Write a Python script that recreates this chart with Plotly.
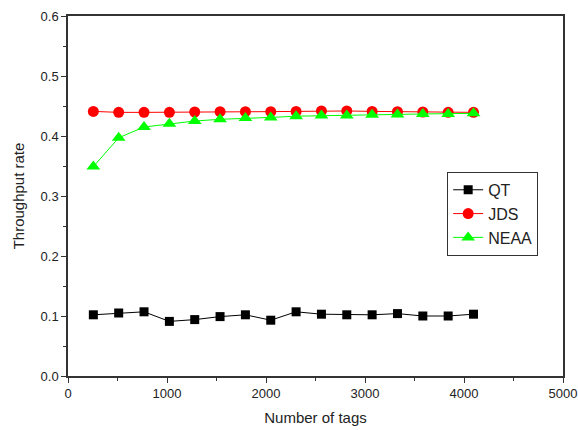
import plotly.graph_objects as go

tags = [256 * k for k in range(1, 17)]
qt = [0.102, 0.105, 0.107, 0.091, 0.094, 0.099, 0.102, 0.093, 0.107, 0.103, 0.102, 0.102, 0.104, 0.100, 0.100, 0.103]
jds = [0.441, 0.4394, 0.4394, 0.4394, 0.440, 0.4406, 0.4406, 0.4406, 0.441, 0.4417, 0.4417, 0.441, 0.4406, 0.440, 0.4394, 0.4394]
neaa = [0.349, 0.397, 0.415, 0.4206, 0.425, 0.4278, 0.430, 0.431, 0.433, 0.434, 0.434, 0.4356, 0.436, 0.4367, 0.4367, 0.4378]

fig = go.Figure()
fig.add_trace(go.Scatter(x=tags, y=qt, name="QT", mode="lines+markers",
                         line=dict(color="black", width=1),
                         marker=dict(symbol="square", size=9, color="black")))
fig.add_trace(go.Scatter(x=tags, y=jds, name="JDS", mode="lines+markers",
                         line=dict(color="#ff0000", width=1),
                         marker=dict(symbol="circle", size=11, color="#ff0000")))
fig.add_trace(go.Scatter(x=tags, y=neaa, name="NEAA", mode="lines+markers",
                         line=dict(color="#00ff00", width=1),
                         marker=dict(symbol="triangle-up", size=12, color="#00ff00")))

axis_common = dict(showgrid=False, zeroline=False, showline=True, linecolor="#333333",
                   linewidth=1.5, mirror=True, ticks="outside", ticklen=5, tickwidth=1,
                   tickcolor="#333333", automargin=False,
                   tickfont=dict(family="Liberation Sans, Arial", size=13, color="#222"))

fig.update_layout(
    width=578, height=430,
    margin=dict(l=68, r=15, t=16, b=54),
    plot_bgcolor="white", paper_bgcolor="white",
    font=dict(family="Liberation Sans, Arial", size=13, color="#222"),
    xaxis=dict(range=[0, 5000], dtick=1000, tick0=0,
               title=dict(text="Number of tags", font=dict(size=15), standoff=12),
               minor=dict(dtick=500, ticks="outside", ticklen=3, tickcolor="#333333"),
               **axis_common),
    yaxis=dict(range=[0, 0.6], dtick=0.1, tick0=0, tickformat=".1f",
               title=dict(text="Throughput rate", font=dict(size=15), standoff=12),
               minor=dict(dtick=0.05, ticks="outside", ticklen=3, tickcolor="#333333"),
               **axis_common),
    legend=dict(x=0.766, y=0.567, xanchor="left", yanchor="top",
                bgcolor="white", bordercolor="#333333", borderwidth=1,
                font=dict(size=16), tracegroupgap=0, itemwidth=30),
    showlegend=True,
)

fig.write_html("out.html")
